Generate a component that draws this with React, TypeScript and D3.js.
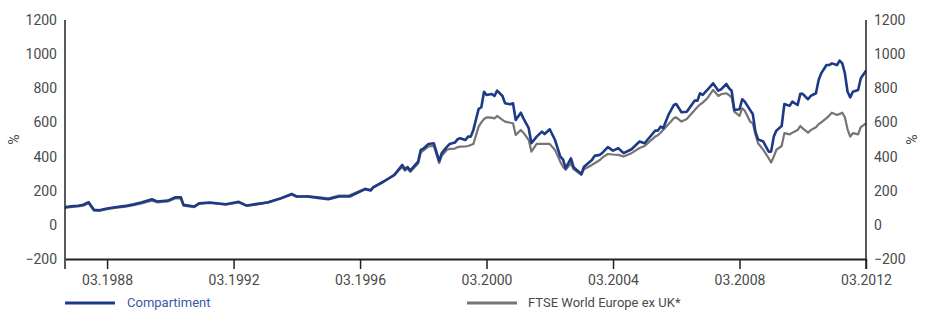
import { useMemo, useEffect, useRef } from "react";
import * as d3 from "d3";

const WIDTH = 926;
const HEIGHT = 311;
const MARGIN = { top: 20, right: 60, bottom: 52, left: 65 };

const dates = [
  "1986-11", "1987-01", "1987-04", "1987-06", "1987-08", "1987-10", "1987-12",
  "1988-03", "1988-06", "1988-10", "1989-01", "1989-04", "1989-08", "1989-10",
  "1989-12", "1990-02", "1990-05", "1990-07", "1990-08", "1990-12", "1991-02",
  "1991-06", "1991-12", "1992-05", "1992-08", "1992-12", "1993-04", "1993-09",
  "1994-01", "1994-03", "1994-07", "1994-11", "1995-03", "1995-07", "1995-11",
  "1996-05", "1996-07", "1996-08", "1996-12", "1997-04", "1997-07", "1997-08",
  "1997-09", "1997-10", "1998-01", "1998-02", "1998-03", "1998-05", "1998-07",
  "1998-09", "1998-10", "1998-12", "1999-01", "1999-03", "1999-04", "1999-05",
  "1999-07", "1999-08", "1999-09", "1999-10", "1999-12", "2000-01", "2000-02",
  "2000-03", "2000-05", "2000-06", "2000-07", "2000-09", "2000-10", "2000-12",
  "2001-01", "2001-02", "2001-04", "2001-05", "2001-07", "2001-08", "2001-10",
  "2001-12", "2002-01", "2002-03", "2002-05", "2002-07", "2002-08", "2002-09",
  "2002-11", "2002-12", "2003-03", "2003-04", "2003-07", "2003-08", "2003-10",
  "2003-11", "2004-01", "2004-03", "2004-05", "2004-07", "2004-10", "2005-01",
  "2005-03", "2005-07", "2005-08", "2005-09", "2005-10", "2005-12", "2006-02",
  "2006-03", "2006-05", "2006-07", "2006-10", "2006-11", "2006-12", "2007-01",
  "2007-03", "2007-05", "2007-07", "2007-08", "2007-10", "2007-11", "2007-12",
  "2008-01", "2008-03", "2008-04", "2008-05", "2008-07", "2008-08", "2008-09",
  "2008-10", "2008-12", "2009-02", "2009-03", "2009-04", "2009-05", "2009-07",
  "2009-08", "2009-10", "2009-11", "2010-01", "2010-02", "2010-03", "2010-05",
  "2010-06", "2010-08", "2010-09", "2010-10", "2010-12", "2011-01", "2011-02",
  "2011-04", "2011-05", "2011-06", "2011-07", "2011-08", "2011-09", "2011-10",
  "2011-12", "2012-01", "2012-03",
];

const compartiment = [
  104, 108, 112, 118, 133, 88, 86,
  96, 103, 111, 120, 131, 150, 137,
  140, 142, 162, 162, 117, 107, 127,
  131, 121, 135, 113, 123, 131, 156,
  181, 166, 166, 158, 150, 166, 166,
  209, 201, 219, 254, 293, 351, 326,
  338, 318, 371, 439, 446, 474, 478,
  375, 420, 458, 474, 482, 501, 507,
  497, 517, 517, 556, 679, 689, 780,
  761, 767, 755, 786, 755, 712, 706,
  712, 614, 657, 624, 566, 478, 517,
  546, 532, 560, 497, 400, 384, 332,
  390, 338, 298, 341, 380, 404, 410,
  423, 455, 435, 449, 420, 443, 488,
  478, 552, 552, 575, 566, 644, 702,
  708, 660, 663, 728, 728, 771, 761,
  794, 829, 786, 794, 825, 800, 786,
  673, 677, 736, 722, 673, 650, 546,
  501, 488, 429, 429, 517, 552, 579,
  708, 697, 722, 702, 767, 767, 736,
  755, 771, 849, 888, 936, 936, 946,
  936, 962, 946, 888, 780, 747, 780,
  790, 859, 903,
];

const ftse = [
  100, 104, 108, 112, 126, 84, 82,
  92, 99, 106, 115, 125, 142, 132,
  135, 137, 156, 154, 112, 104, 123,
  128, 118, 131, 111, 120, 133, 156,
  176, 165, 168, 162, 156, 172, 173,
  213, 205, 222, 256, 290, 340, 318,
  330, 310, 360, 425, 435, 460, 462,
  362, 405, 440, 445, 447, 455, 458,
  460, 462, 468, 474, 575, 600, 620,
  630, 628, 624, 638, 615, 605, 598,
  595, 527, 556, 540, 497, 429, 474,
  474, 474, 474, 439, 370, 340, 322,
  361, 326, 293, 326, 351, 361, 380,
  395, 415, 412, 410, 400, 420, 450,
  462, 517, 525, 540, 556, 590, 625,
  630, 605, 620, 673, 690, 705, 716,
  745, 790, 755, 765, 771, 760, 747,
  663, 638, 683, 669, 605, 595, 530,
  478, 439, 390, 365, 400, 440, 462,
  537, 530, 540, 555, 579, 565, 540,
  555, 572, 590, 600, 625, 640, 657,
  644, 650, 657, 630, 560, 517, 537,
  530, 572, 595,
];

const yTicks = [-200, 0, 200, 400, 600, 800, 1000, 1200];
const xTickDates = ["1988-03", "1992-03", "1996-03", "2000-03", "2004-03", "2008-03", "2012-03"];
const xTickLabels = ["03.1988", "03.1992", "03.1996", "03.2000", "03.2004", "03.2008", "03.2012"];
const seriesNames = ["Compartiment", "FTSE World Europe ex UK*"];

const BLUE = "#1d3a87";
const GREY = "#757575";
const TEXT = "#4a4a4a";
const FONT = "Roboto, 'Liberation Sans', sans-serif";

const parseMonth = d3.timeParse("%Y-%m");

const App = () => {
  const axesRef = useRef<SVGGElement>(null);

  const boundsWidth = WIDTH - MARGIN.left - MARGIN.right;
  const boundsHeight = 259 - MARGIN.top;

  const parsed = useMemo(() => dates.map((d) => parseMonth(d) as Date), []);

  const xScale = useMemo(
    () =>
      d3
        .scaleTime()
        .domain([parsed[0], parsed[parsed.length - 1]])
        .range([0, boundsWidth]),
    [parsed, boundsWidth]
  );

  const yScale = useMemo(
    () => d3.scaleLinear().domain([-200, 1200]).range([boundsHeight, 0]),
    [boundsHeight]
  );

  const lineGen = d3
    .line<number>()
    .x((_, i) => xScale(parsed[i]))
    .y((v) => yScale(v));

  // axes drawn with d3 on a ref
  useEffect(() => {
    const g = d3.select(axesRef.current);
    g.selectAll("*").remove();

    // bottom axis
    const xAxis = d3
      .axisBottom(xScale)
      .tickValues(xTickDates.map((d) => parseMonth(d) as Date))
      .tickFormat((_, i) => xTickLabels[i])
      .tickSize(10)
      .tickSizeOuter(0);
    const xg = g.append("g").attr("transform", `translate(0,${boundsHeight})`).call(xAxis);
    xg.select(".domain").attr("stroke", "#222").attr("stroke-width", 2.2);
    xg.selectAll(".tick line").attr("stroke", "#222").attr("stroke-width", 1.5);
    xg.selectAll(".tick text")
      .attr("y", 16)
      .attr("fill", TEXT)
      .attr("font-size", 14)
      .attr("font-family", FONT);

    // left and right axes (labels only, no tick marks)
    const fmt = d3.format("d");
    const yLeft = d3.axisLeft(yScale).tickValues(yTicks).tickFormat(fmt).tickSize(0).tickPadding(8);
    const yl = g.append("g").call(yLeft);
    const yRight = d3.axisRight(yScale).tickValues(yTicks).tickFormat(fmt).tickSize(0).tickPadding(8);
    const yr = g.append("g").attr("transform", `translate(${boundsWidth},0)`).call(yRight);
    [yl, yr].forEach((sel) => {
      sel.select(".domain").remove();
      sel.selectAll(".tick text")
        .attr("fill", TEXT)
        .attr("font-size", 14)
        .attr("font-family", FONT);
    });

    // vertical axis lines run below the bottom axis
    [0, boundsWidth].forEach((x) => {
      g.append("line")
        .attr("x1", x)
        .attr("x2", x)
        .attr("y1", 0)
        .attr("y2", boundsHeight + 10)
        .attr("stroke", "#222")
        .attr("stroke-width", 1.5);
    });

    // "%" labels
    g.append("text")
      .attr("transform", `translate(${-46},${yScale(500)}) rotate(-90)`)
      .attr("text-anchor", "middle")
      .attr("fill", TEXT)
      .attr("font-size", 14)
      .attr("font-family", FONT)
      .text("%");
    g.append("text")
      .attr("transform", `translate(${boundsWidth + 51},${yScale(500)}) rotate(-90)`)
      .attr("text-anchor", "middle")
      .attr("fill", TEXT)
      .attr("font-size", 14)
      .attr("font-family", FONT)
      .text("%");
  }, [xScale, yScale, boundsHeight, boundsWidth]);

  return (
    <svg
      width={WIDTH}
      height={HEIGHT}
      style={{ position: "absolute", left: 0, top: 0, background: "#fff" }}
    >
      <g transform={`translate(${MARGIN.left},${MARGIN.top})`}>
        <path d={lineGen(ftse) ?? ""} fill="none" stroke={GREY} strokeWidth={2.2} strokeLinejoin="round" />
        <path d={lineGen(compartiment) ?? ""} fill="none" stroke={BLUE} strokeWidth={2.6} strokeLinejoin="round" />
        <g ref={axesRef} />
      </g>

      {/* legend */}
      <g transform="translate(65,303)">
        <line x1={0} x2={50} y1={0} y2={0} stroke={BLUE} strokeWidth={3} />
        <text x={62} y={4} fill="#3a57a8" fontSize={13} fontFamily={FONT}>
          {seriesNames[0]}
        </text>
        <line x1={402} x2={452} y1={0} y2={0} stroke={GREY} strokeWidth={3} />
        <text x={463} y={4} fill={TEXT} fontSize={13} fontFamily={FONT}>
          {seriesNames[1]}
        </text>
      </g>
    </svg>
  );
};

export default App;
